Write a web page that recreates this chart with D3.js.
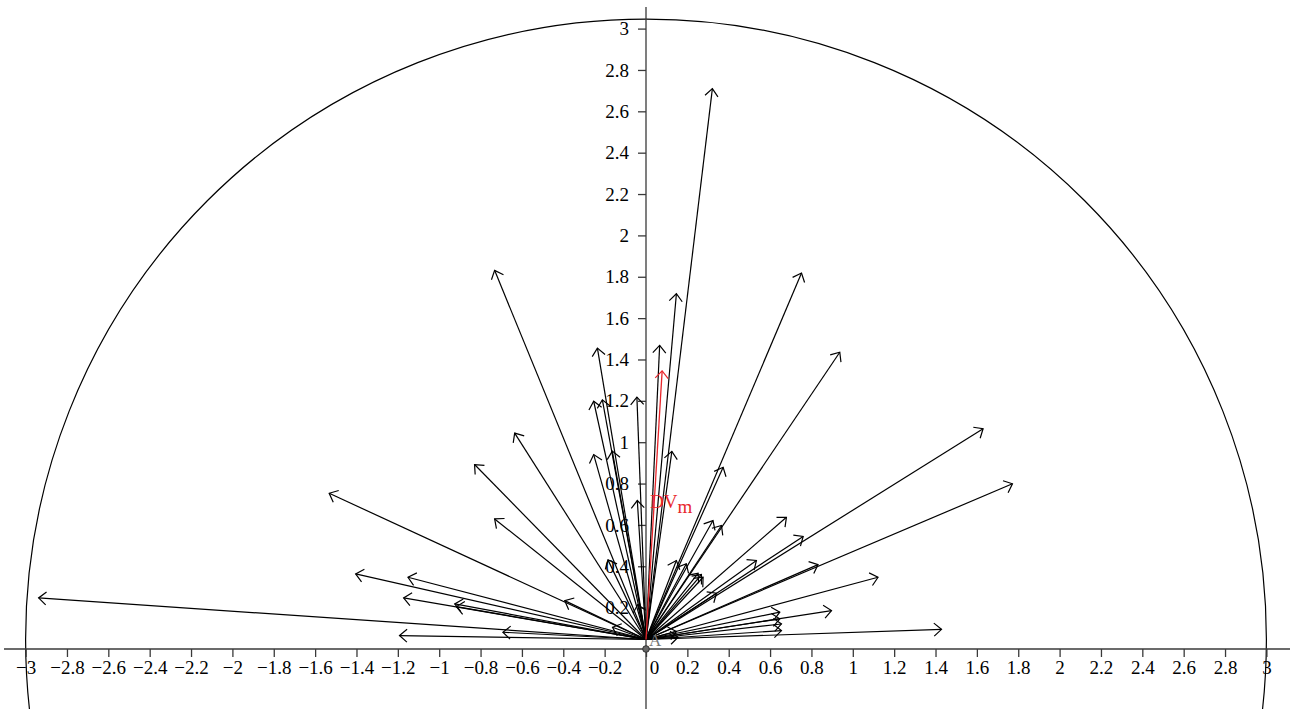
<!DOCTYPE html>
<html>
<head>
<meta charset="utf-8">
<script src="https://cdn.jsdelivr.net/npm/d3@7"></script>
<style>
  html, body { margin: 0; padding: 0; background: #fff; }
  svg { display: block; font-family: "Liberation Serif", "DejaVu Serif", serif; }
  svg text { font-family: "Liberation Serif", "DejaVu Serif", serif; }
</style>
</head>
<body>
<div id="chart"></div>
<script>
// tips of the vectors, all drawn from point A
const endX = [-2.937, -1.532, -1.404, -1.151, -1.172, -0.925, -0.917, -1.192, -0.692, -0.732,
  -0.393, -0.162, -0.042, -0.732, -0.635, -0.829, -0.235, -0.253, -0.211, -0.044,
  -0.253, -0.163, -0.184, -0.040, 0.066, 0.147, 0.125, 0.321, 0.373, 0.324,
  0.365, 0.147, 0.195, 0.252, 0.268, 0.276, 0.679, 0.760, 0.534, 0.832,
  0.341, 1.122, 0.897, 0.647, 0.647, 0.655, 0.655, 0.147, 0.155, 1.429,
  0.752, 0.937, 1.630, 1.772]
const endY = [0.247, 0.753, 0.363, 0.347, 0.247, 0.218, 0.205, 0.065, 0.081, 0.629,
  0.234, 0.105, 0.718, 1.831, 1.044, 0.892, 1.455, 1.198, 1.205, 1.218,
  0.940, 0.957, 0.431, 0.215, 1.468, 1.718, 0.956, 2.710, 0.879, 0.621,
  0.597, 0.428, 0.412, 0.366, 0.360, 0.347, 0.637, 0.544, 0.428, 0.408,
  0.270, 0.347, 0.186, 0.178, 0.146, 0.121, 0.089, 0.085, 0.057, 0.095,
  1.818, 1.435, 1.065, 0.799]
const meanVector = [0.078, 1.345]   // DV_m
const pointA = [0, 0.046]
const radius = 3

const xTicks = d3.range(-15, 16).map(i => i / 5)
const yTicks = d3.range(1, 16).map(i => i / 5)

const width = 1292, height = 709
const serif = '"Liberation Serif", "DejaVu Serif", serif'
const x = d3.scaleLinear().domain([-3, 3]).range([25.6, 1266.4])
const y = d3.scaleLinear().domain([0, 3]).range([649, 28.6])
const fmt = d => String(+d.toFixed(1)).replace('-', '\u2212')

const svg = d3.select('#chart').append('svg')
  .attr('width', width)
  .attr('height', height)
  .attr('font-family', serif)

const defs = svg.append('defs')
const marker = (id, color) => defs.append('marker')
  .attr('id', id)
  .attr('markerUnits', 'userSpaceOnUse')
  .attr('markerWidth', 20).attr('markerHeight', 20)
  .attr('viewBox', '-12 -10 14 20')
  .attr('refX', 0).attr('refY', 0)
  .attr('orient', 'auto')
  .style('overflow', 'visible')
  .append('path')
  .attr('d', 'M-7.5,-6.5L0,0L-7.5,6.5')
  .attr('fill', 'none')
  .attr('stroke', color)
  .attr('stroke-width', 1.2)
marker('head', '#000')
marker('headRed', '#e8262b')

// circle of radius 3 round A
svg.append('circle')
  .attr('cx', x(pointA[0]))
  .attr('cy', y(pointA[1]))
  .attr('r', x(radius) - x(0))
  .attr('fill', 'none')
  .attr('stroke', '#000')
  .attr('stroke-width', 1.2)

// axes
const axisColor = '#3a3a3a'
svg.append('line')
  .attr('x1', 4).attr('x2', 1290)
  .attr('y1', y(0)).attr('y2', y(0))
  .attr('stroke', axisColor).attr('stroke-width', 1.3)
svg.append('line')
  .attr('x1', x(0)).attr('x2', x(0))
  .attr('y1', 7).attr('y2', height)
  .attr('stroke', axisColor).attr('stroke-width', 1.3)

const gx = svg.append('g')
  .attr('transform', `translate(0,${y(0)})`)
  .call(d3.axisBottom(x).tickValues(xTicks).tickSize(8).tickPadding(4).tickFormat(fmt))
const gy = svg.append('g')
  .attr('transform', `translate(${x(0)},0)`)
  .call(d3.axisLeft(y).tickValues(yTicks).tickSize(8).tickPadding(9).tickFormat(fmt))

for (const g of [gx, gy]) {
  g.attr('font-family', serif).attr('font-size', 19)
  g.select('.domain').remove()
  g.selectAll('.tick line').attr('stroke', axisColor).attr('stroke-width', 1.3)
  g.selectAll('.tick text').attr('fill', '#000')
}
gx.selectAll('.tick').filter(d => d === 0).select('text').attr('x', 8)

// vectors
const vectors = endX.map((v, i) => [v, endY[i]])
svg.append('g').selectAll('line')
  .data(vectors)
  .join('line')
  .attr('x1', x(pointA[0]))
  .attr('y1', y(pointA[1]))
  .attr('x2', d => x(d[0]))
  .attr('y2', d => y(d[1]))
  .attr('stroke', '#000')
  .attr('stroke-width', 1.2)
  .attr('marker-end', 'url(#head)')

svg.append('line')
  .attr('x1', x(pointA[0]))
  .attr('y1', y(pointA[1]))
  .attr('x2', x(meanVector[0]))
  .attr('y2', y(meanVector[1]))
  .attr('stroke', '#e8262b')
  .attr('stroke-width', 1.3)
  .attr('marker-end', 'url(#headRed)')

const lbl = svg.append('text')
  .attr('x', 650)
  .attr('y', 508)
  .attr('fill', '#e8262b')
  .attr('font-size', 19)
lbl.append('tspan').text('DV')
lbl.append('tspan').attr('dy', 5).text('m')

// point at the origin and its label
svg.append('circle')
  .attr('cx', x(0)).attr('cy', y(0))
  .attr('r', 3.3)
  .attr('fill', '#666')
  .attr('stroke', '#333')
  .attr('stroke-width', 1)
svg.append('text')
  .attr('x', 649)
  .attr('y', 646)
  .attr('fill', '#777')
  .attr('font-size', 17)
  .text('A')
</script>
</body>
</html>
